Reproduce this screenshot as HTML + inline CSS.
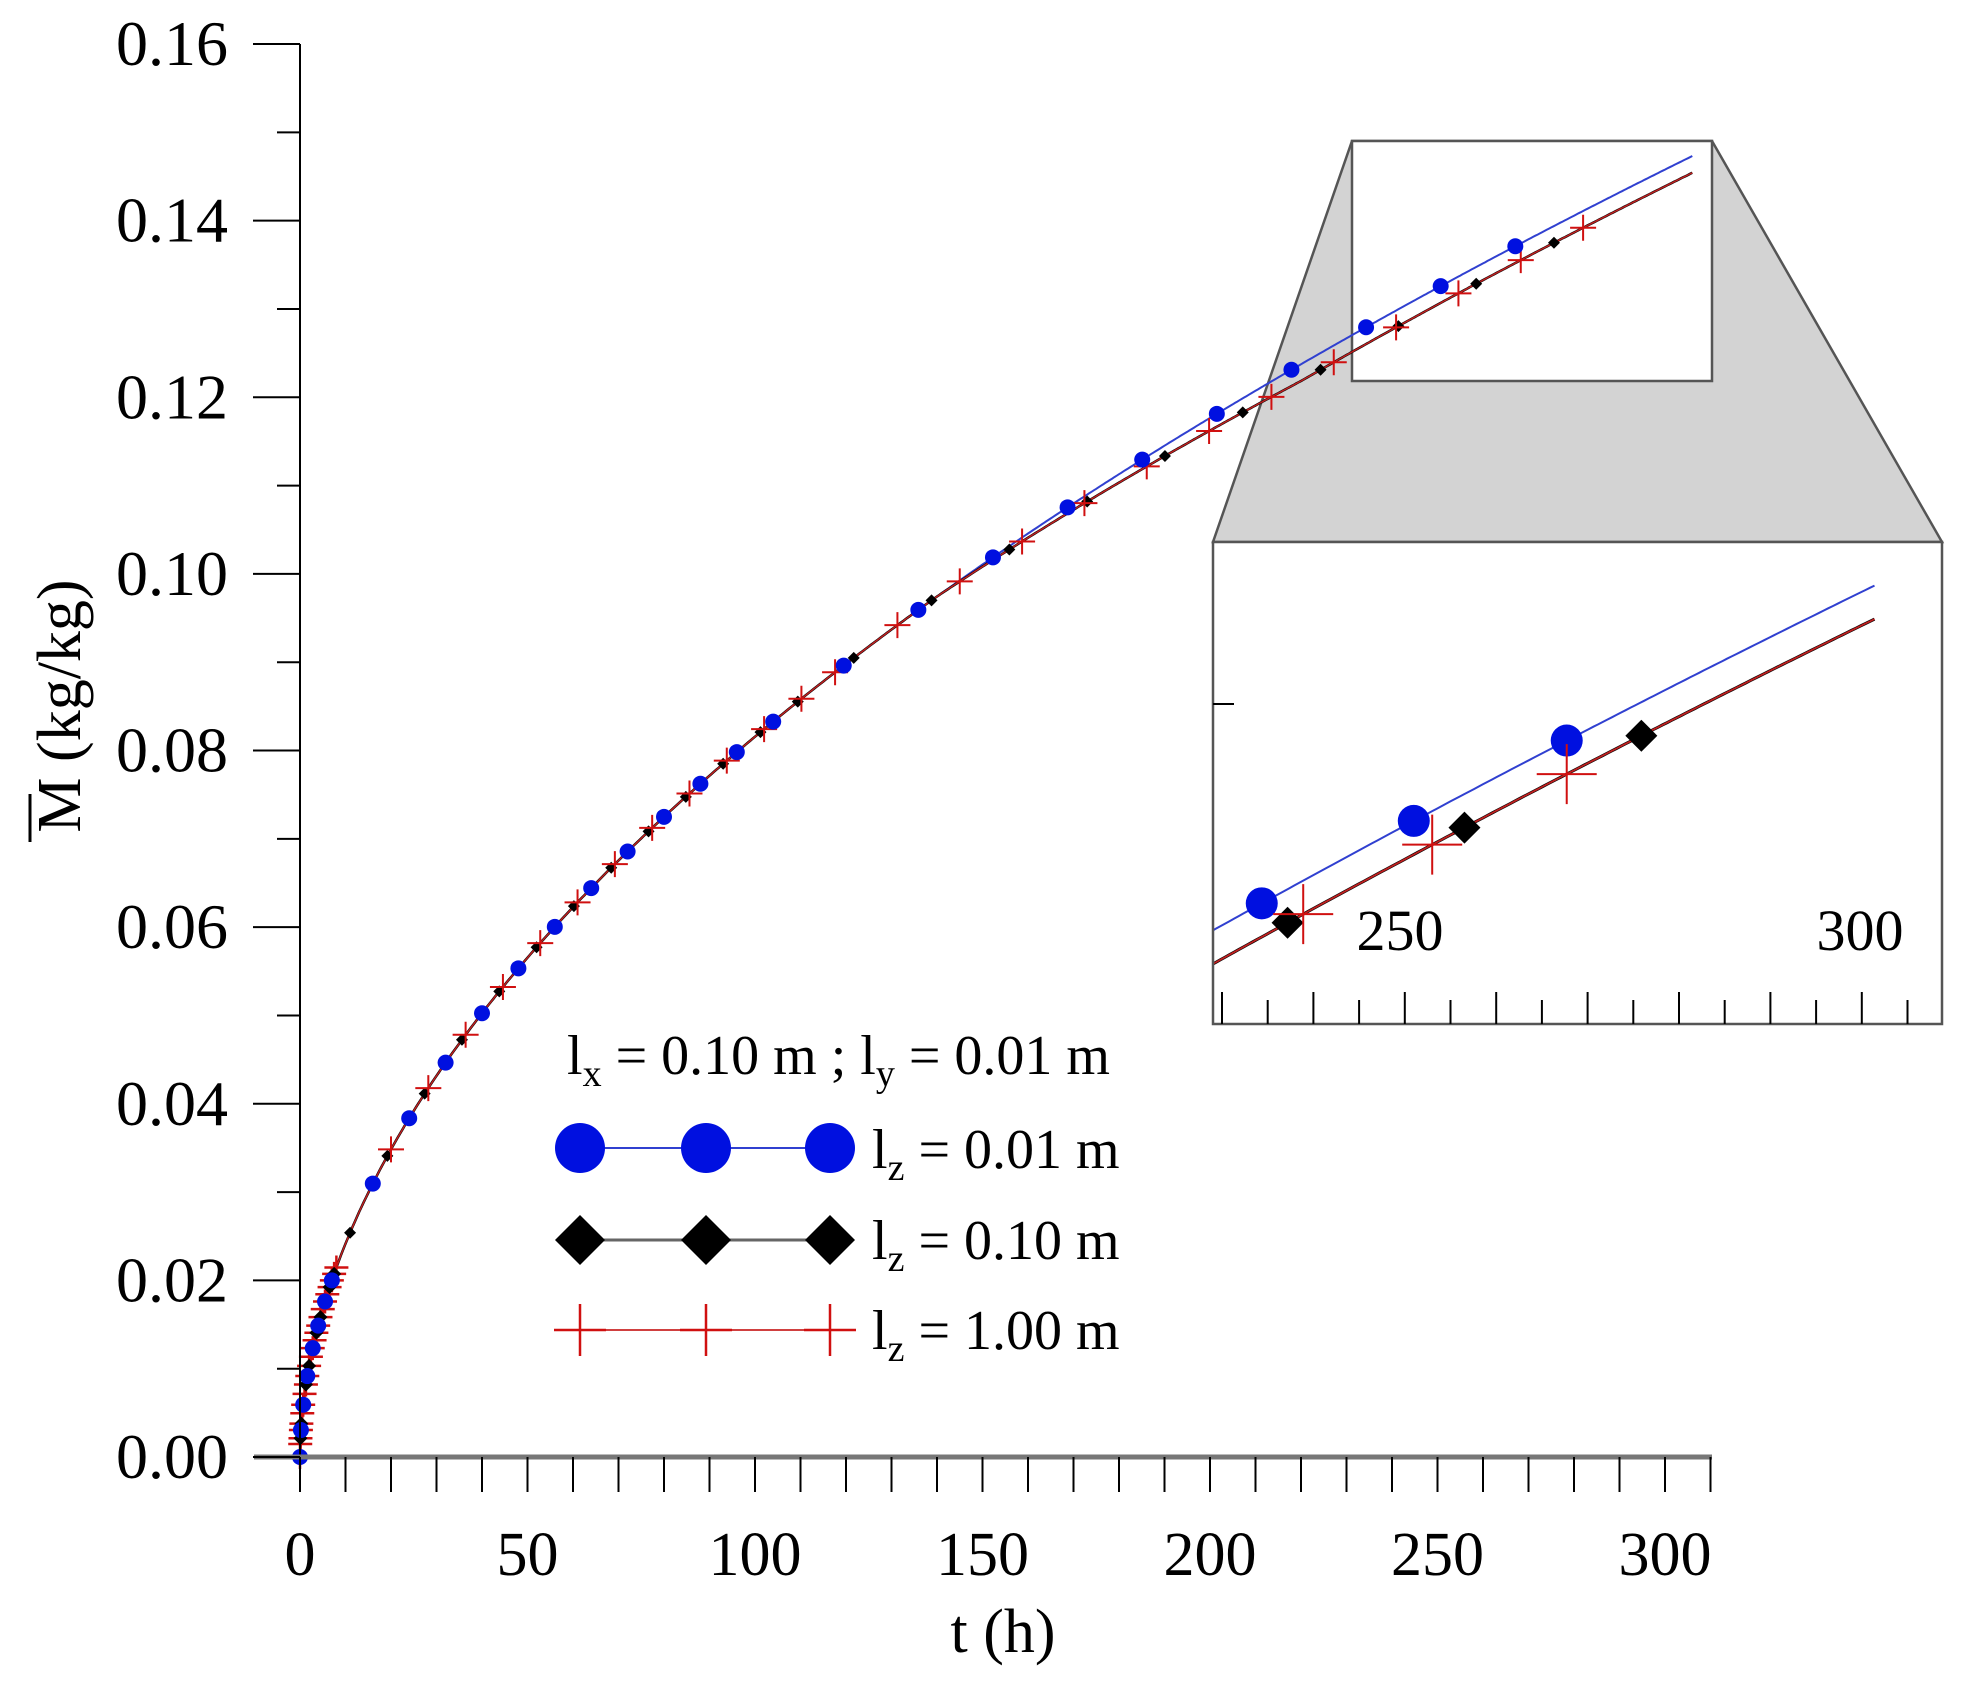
<!DOCTYPE html>
<html><head><meta charset="utf-8"><style>
html,body{margin:0;padding:0;background:#fff;overflow:hidden;width:1967px;height:1687px;}
svg{display:block;font-family:"Liberation Serif",serif;}
</style></head><body>
<svg id="s" width="1967" height="1687" viewBox="0 0 1967 1687" xmlns="http://www.w3.org/2000/svg">
<rect width="1967" height="1687" fill="#fff"/>
<polygon points="1352,141 1712,141 1942,542 1213,542" fill="#d3d3d3" stroke="#555" stroke-width="2.5"/>
<rect x="1352" y="141" width="360" height="240" fill="#fff" stroke="#555" stroke-width="2.5"/>
<g id="main"></g>
<g id="axes" stroke="#000" stroke-width="2"></g>
<g font-size="64" fill="#000" text-anchor="end" id="ylab"></g>
<g font-size="62" fill="#000" text-anchor="middle" id="xlab"></g>
<text x="1003" y="1652" font-size="62" text-anchor="middle">t (h)</text>
<g transform="translate(80,706) rotate(-90)">
<text x="0" y="0" font-size="62" text-anchor="middle">M (kg/kg)</text>
<line x1="-136" y1="-50" x2="-88" y2="-50" stroke="#000" stroke-width="3"/>
</g>
<svg x="1213" y="542" width="729" height="482" viewBox="1213 542 729 482" overflow="hidden">
<rect x="1213" y="542" width="729" height="482" fill="#fff"/>
<g id="inset"></g>
</svg>
<rect x="1213" y="542" width="729" height="482" fill="none" stroke="#555" stroke-width="2.5"/>
<g id="itick" stroke="#000" stroke-width="2"></g>
<text x="1400" y="950" font-size="58" text-anchor="middle">250</text>
<text x="1860" y="950" font-size="58" text-anchor="middle">300</text>
<g id="legend"></g>
<text x="567" y="1074" font-size="56">l<tspan font-size="38" dy="12">x</tspan><tspan dy="-12"> = 0.10 m ;  l</tspan><tspan font-size="38" dy="12">y</tspan><tspan dy="-12"> = 0.01 m</tspan></text>
<text x="872" y="1168" font-size="56">l<tspan font-size="38" dy="12">z</tspan><tspan dy="-12"> = 0.01 m</tspan></text>
<text x="872" y="1259" font-size="56">l<tspan font-size="38" dy="12">z</tspan><tspan dy="-12"> = 0.10 m</tspan></text>
<text x="872" y="1349" font-size="56">l<tspan font-size="38" dy="12">z</tspan><tspan dy="-12"> = 1.00 m</tspan></text>
</svg>
<script>
var NS="http://www.w3.org/2000/svg";
function el(p,n,a){var e=document.createElementNS(NS,n);for(var k in a)e.setAttribute(k,a[k]);p.appendChild(e);return e;}
function X(t){return 300+4.55*t;}
function Y(m){return 1457-8831*m;}
function Mb(t){return 0.00715*Math.pow(Math.max(t,0),0.5286);}
function off(t){return 0.0019*Math.min(1,Math.max(0,(t-140)/80));}
function Mk(t){return Mb(t)-off(t);}
var main=document.getElementById('main'),inset=document.getElementById('inset');
function path(f,col,w,tr,tmax){var d="";for(var t=0;t<=tmax;t+=0.5){var x=X(t),y=Y(f(t));if(tr){x=tr[0](x);y=tr[1](y);}d+=(d?"L":"M")+x.toFixed(1)+","+y.toFixed(1);}return {d:d,fill:"none",stroke:col,"stroke-width":w};}
function circ(g,x,y,r){el(g,"circle",{cx:x,cy:y,r:r,fill:"#0010e0"});}
function dia(g,x,y,r){el(g,"polygon",{points:(x-r)+","+y+" "+x+","+(y-r)+" "+(x+r)+","+y+" "+x+","+(y+r),fill:"#000"});}
function cross(g,x,y,r,w){el(g,"path",{d:"M"+(x-r)+","+y+"H"+(x+r)+"M"+x+","+(y-r)+"V"+(y+r),stroke:"#d01010","stroke-width":w,fill:"none"});}
el(main,"path",path(Mb,"#3040d0",2,null,306));
el(main,"path",path(Mk,"#000",2.5,null,306));
el(main,"path",path(Mk,"#c02020",1.5,null,306));
var early=[0,0.05,0.1,0.2,0.3,0.5,0.7,1,1.3,1.6,2,2.4,2.8,3.2,3.6,4,4.5,5,5.5,6,6.5,7,7.5,8];
early.forEach(function(t){cross(main,X(t),Y(Mk(t)),12,2.5);});
early.forEach(function(t,i){if(i%2==0)dia(main,X(t),Y(Mk(t)),7);});
early.forEach(function(t,i){if(i%3==0)circ(main,X(t),Y(Mb(t)),8);});
var bl=[],dl=[],cl=[];
for(var t=16;t<110;t+=8)bl.push(t);
for(var t=119.5;t<275;t+=16.4)bl.push(t);
for(var t=11;t<112;t+=8.2)dl.push(t);
for(var t=121.7;t<290;t+=17.1)dl.push(t);
for(var t=20;t<112;t+=8.2)cl.push(t);
for(var t=117.6;t<285;t+=13.7)cl.push(t);
dl.forEach(function(t){dia(main,X(t),Y(Mk(t)),6);});
cl.forEach(function(t){cross(main,X(t),Y(Mk(t)),13,2);});
bl.forEach(function(t){circ(main,X(t),Y(Mb(t)),8);});
var tr=[function(x){return 1213+(x-1352)*2.025;},function(y){return 542+(y-141)*2;}];
el(inset,"path",path(Mb,"#3040d0",2,tr,303));
el(inset,"path",path(Mk,"#000",3,tr,303));
el(inset,"path",path(Mk,"#c02020",1.8,tr,303));
[236.5,253,269.6].forEach(function(t){circ(inset,tr[0](X(t)),tr[1](Y(Mb(t))),16);});
[239.3,258.5,277.7].forEach(function(t){dia(inset,tr[0](X(t)),tr[1](Y(Mk(t))),16);});
[227.5,241,255,269.6].forEach(function(t){cross(inset,tr[0](X(t)),tr[1](Y(Mk(t))),30,2);});
var it=document.getElementById('itick');
for(var i=0;i<16;i++){var x=1222+i*45.7;el(it,"line",{x1:x,y1:1024,x2:x,y2:i%2==0?992:1000});}
el(it,"line",{x1:1213,y1:704,x2:1234,y2:704});
var ax=document.getElementById('axes');
el(ax,"line",{x1:300,y1:44,x2:300,y2:1457});
el(ax,"line",{x1:254,y1:1457,x2:1712,y2:1457,stroke:"#777","stroke-width":5});
var yl=document.getElementById('ylab');
for(var i=0;i<=16;i++){var y=1457-i*(1413/16);el(ax,"line",{x1:i%2==0?253:277,y1:y,x2:300,y2:y});
 if(i%2==0){var tx=el(yl,"text",{x:228,y:y+21});tx.textContent=(i/100).toFixed(2);}}
var xl=document.getElementById('xlab');
for(var i=0;i<=31;i++){var x=X(i*10);el(ax,"line",{x1:x,y1:1457,x2:x,y2:1492});
 if(i%5==0&&i<=30){var tx=el(xl,"text",{x:x,y:1575});tx.textContent=String(i*10);}}
var lg=document.getElementById('legend');
var xs=[580,706,830];
el(lg,"line",{x1:580,y1:1148,x2:830,y2:1148,stroke:"#3040d0","stroke-width":2});
xs.forEach(function(x){circ(lg,x,1148,25);});
el(lg,"line",{x1:580,y1:1240,x2:830,y2:1240,stroke:"#666","stroke-width":3});
xs.forEach(function(x){dia(lg,x,1240,25);});
el(lg,"line",{x1:556,y1:1330,x2:855,y2:1330,stroke:"#d04040","stroke-width":2});
xs.forEach(function(x){cross(lg,x,1330,26,2.5);});
</script>
</body></html>
